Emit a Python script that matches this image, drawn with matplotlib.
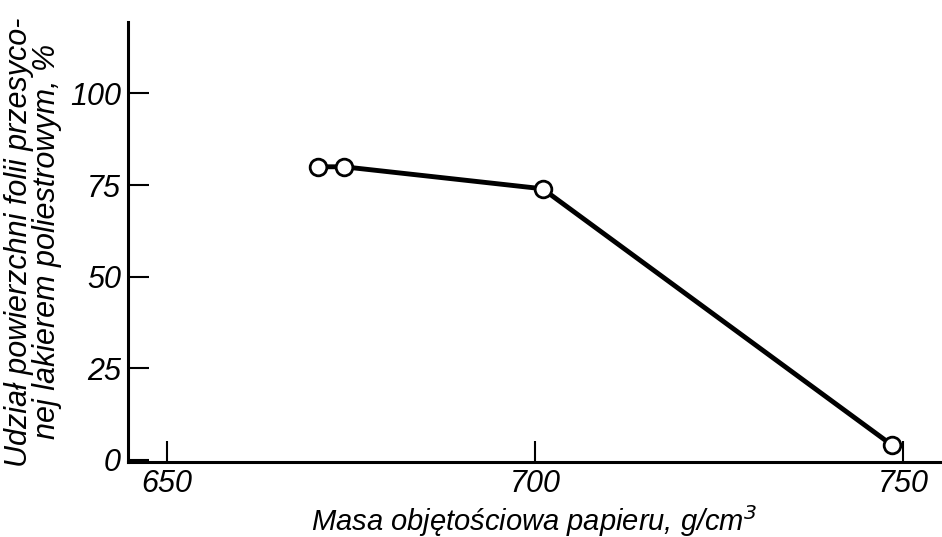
import matplotlib.pyplot as plt

masa = [670.5, 674, 701, 748.5]
udzial = [80, 80, 74, 4]
xticks = [650, 700, 750]
yticks = [0, 25, 50, 75, 100]

plt.rcParams['font.family'] = ['Liberation Sans', 'DejaVu Sans']
plt.rcParams['font.style'] = 'italic'

fig = plt.figure(figsize=(9.42, 5.37), dpi=100)
ax = fig.add_axes([0.136, 0.140, 0.862, 0.819])

ax.plot(masa, udzial, color='black', lw=3.5, marker='o', ms=12,
        mfc='white', mec='black', mew=2, zorder=3, clip_on=False)

ax.set_xlim(644.7, 755)
ax.set_ylim(-0.5, 119.5)
ax.set_xticks(xticks)
ax.set_yticks(yticks)
ax.tick_params(direction='in', length=15, width=1.5, labelsize=22, pad=5)

for s in ['top', 'right']:
    ax.spines[s].set_visible(False)
for s in ['left', 'bottom']:
    ax.spines[s].set_linewidth(2.2)

ax.set_xlabel('Masa objętościowa papieru, g/cm$^{3}$', fontsize=21, labelpad=3)
ax.set_ylabel('Udział powierzchni folii przesyco-\nnej lakierem poliestrowym, %',
              fontsize=22, labelpad=6, linespacing=0.9)

fig.savefig('out.png', dpi=100)
